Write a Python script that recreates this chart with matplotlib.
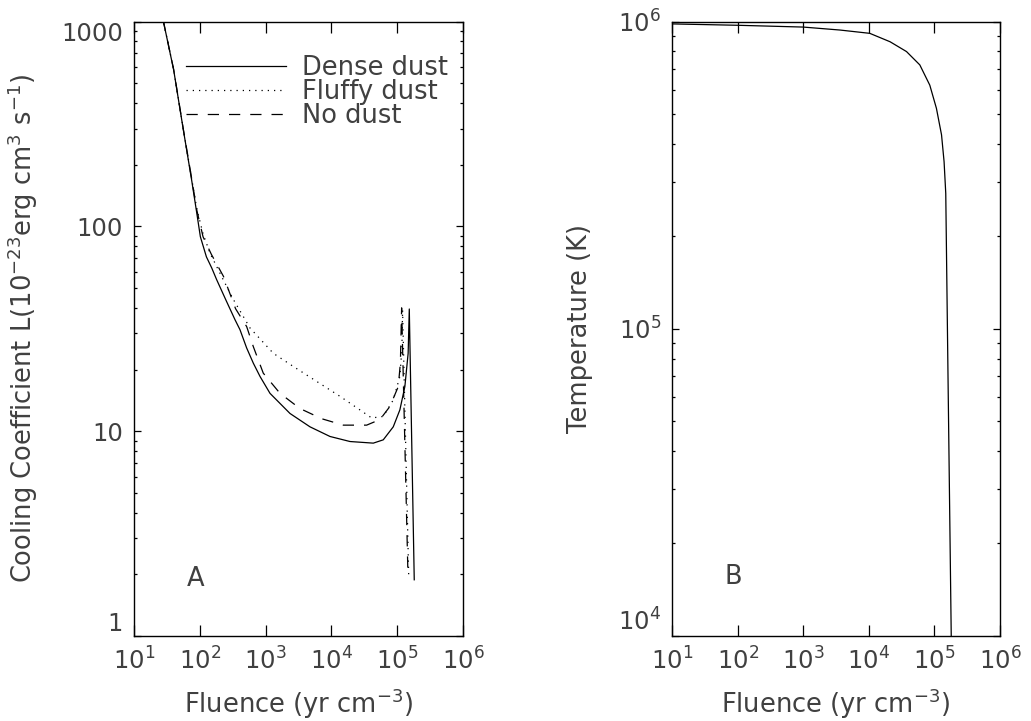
import numpy as np
import matplotlib
matplotlib.use('Agg')
import matplotlib.pyplot as plt

plt.rcParams['font.family'] = ['DejaVu Sans']
plt.rcParams['mathtext.default'] = 'regular'

# panel A: cooling coefficient vs fluence
x_dense = [24, 28, 40, 56, 75, 90, 102, 126, 152, 180, 250, 343, 408, 515, 650, 823,
           1167, 2350, 4730, 9530, 19200, 43400, 61500, 87300, 110000, 131000,
           147000, 153000, 182000]
L_dense = [1300, 1000, 582, 298, 169, 116, 89, 71, 62.6, 55, 43.6, 35, 31.3, 25.5, 21.5, 18.5,
           15.3, 12.2, 10.5, 9.42, 8.90, 8.74, 9.07, 10.5, 12.7, 16.5,
           24, 39.5, 1.88]

x_fluffy = [24, 28, 40, 56, 75, 90, 112, 143, 220, 323, 580, 1310, 2640, 5970, 13500,
            27200, 41000, 61500, 87300, 110000, 118000, 121000, 150000]
L_fluffy = [1300, 1000, 585, 300, 172, 122, 92, 74, 56, 44, 31.9, 24, 20.7, 17.5, 14.8,
            12.7, 11.6, 11.8, 14.2, 18.5, 25, 39, 1.95]

x_nodust = [24, 28, 40, 56, 75, 90, 112, 150, 229, 350, 516, 650, 922, 1656, 3330,
            7130, 15200, 34400, 54900, 77600, 104000, 112000, 117000, 146000]
L_nodust = [1300, 1000, 585, 300, 172, 120, 89, 73, 57, 39.6, 32.4, 25.9, 19.2, 15.3, 12.9,
            11.5, 10.7, 10.7, 11.4, 13.2, 16.5, 21.5, 40, 2.0]

# panel B: temperature vs fluence
x_temp = [10, 100, 1000, 3600, 10300, 21000, 37400, 59700, 84800, 107000, 128000,
          140000, 148500, 161000, 180000]
T_temp = [9.83e5, 9.73e5, 9.6e5, 9.39e5, 9.16e5, 8.6e5, 7.99e5, 7.23e5, 6.21e5, 5.22e5,
          4.28e5, 3.5e5, 2.76e5, 6.8e4, 1.0e4]

xticks = [1e1, 1e2, 1e3, 1e4, 1e5, 1e6]
xticklabels = ['$10^{1}$', '$10^{2}$', '$10^{3}$', '$10^{4}$', '$10^{5}$', '$10^{6}$']

txt = '#404040'
fs_tick = 17.5
fs_lab = 18.5

fig = plt.figure(figsize=(10.31, 7.21), dpi=100)
axA = fig.add_axes([0.130, 0.118, 0.319, 0.852])
axB = fig.add_axes([0.652, 0.118, 0.318, 0.852])


def style(ax):
    ax.set_xscale('log')
    ax.set_yscale('log')
    ax.set_xlim(10, 1e6)
    ax.set_xticks(xticks)
    ax.set_xticklabels(xticklabels)
    ax.xaxis.set_minor_locator(matplotlib.ticker.LogLocator(base=10, subs=np.arange(2, 10)))
    ax.xaxis.set_minor_formatter(matplotlib.ticker.NullFormatter())
    ax.yaxis.set_minor_locator(matplotlib.ticker.LogLocator(base=10, subs=np.arange(2, 10)))
    ax.yaxis.set_minor_formatter(matplotlib.ticker.NullFormatter())
    ax.tick_params(axis='x', which='major', direction='in', length=8, width=0.9,
                   top=True, labelsize=fs_tick, labelcolor=txt, pad=8)
    ax.tick_params(axis='x', which='minor', direction='in', length=4, width=0.9, top=True)
    ax.tick_params(axis='y', which='major', direction='in', length=5, width=0.9,
                   right=True, labelsize=fs_tick, labelcolor=txt, pad=8)
    ax.tick_params(axis='y', which='minor', direction='in', length=2.5, width=0.9, right=True)
    for s in ax.spines.values():
        s.set_linewidth(1.0)
    ax.set_xlabel('Fluence (yr cm$^{-3}$)', fontsize=fs_lab, color=txt)
    ax.xaxis.set_label_coords(0.5, -0.083)


style(axA)
axA.plot(x_dense, L_dense, color='black', lw=0.9, ls='-', label='Dense dust')
axA.plot(x_fluffy, L_fluffy, color='black', lw=0.9, ls=(0, (1, 4)), label='Fluffy dust')
axA.plot(x_nodust, L_nodust, color='black', lw=0.9, ls=(0, (9, 8)), label='No dust')
axA.set_ylim(1, 1000)
axA.set_yticks([1, 10, 100, 1000])
axA.set_yticklabels(['1', '10', '100', '1000'])
ylabs = axA.get_yticklabels()
ylabs[0].set_verticalalignment('bottom')
ylabs[-1].set_verticalalignment('top')
axA.set_ylabel('Cooling Coefficient L(10$^{-23}$erg cm$^3$ s$^{-1}$)',
               fontsize=fs_lab, color=txt)
axA.yaxis.set_label_coords(-0.286, 0.5)
axA.text(85, 1.9, 'A', fontsize=fs_lab, color=txt, ha='center', va='center')
leg = axA.legend(loc='upper left', bbox_to_anchor=(0.158, 0.945), frameon=False,
                 fontsize=fs_lab, handlelength=3.9, handletextpad=0.6,
                 labelspacing=-0.08, borderpad=0, borderaxespad=0)
for t in leg.get_texts():
    t.set_color(txt)

style(axB)
axB.plot(x_temp, T_temp, color='black', lw=0.9)
axB.set_ylim(1e4, 1e6)
axB.set_yticks([1e4, 1e5, 1e6])
axB.set_yticklabels(['$10^{4}$', '$10^{5}$', '$10^{6}$'])
axB.get_yticklabels()[0].set_verticalalignment('bottom')
axB.set_ylabel('Temperature (K)', fontsize=fs_lab, color=txt)
axB.yaxis.set_label_coords(-0.241, 0.5)
axB.text(85, 1.55e4, 'B', fontsize=fs_lab, color=txt, ha='center', va='center')

fig.savefig('out.png', dpi=100)
